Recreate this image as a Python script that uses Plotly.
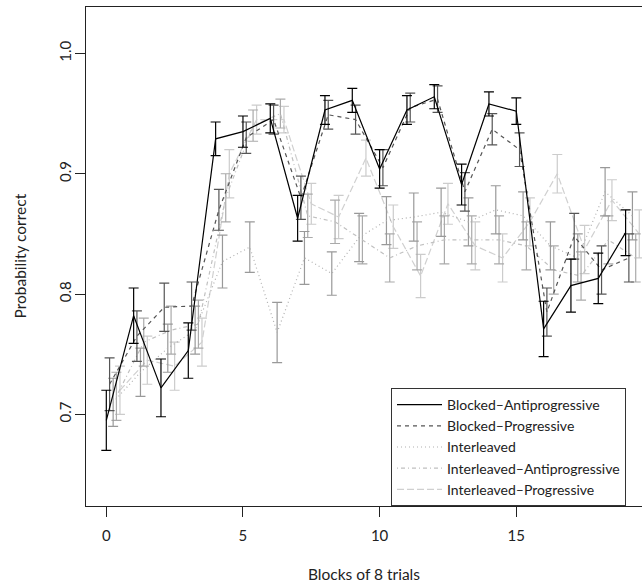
import plotly.graph_objects as go

blocks = list(range(20))

series_names = ["Blocked–Antiprogressive", "Blocked–Progressive", "Interleaved",
                "Interleaved–Antiprogressive", "Interleaved–Progressive"]

ba_mean = [0.695, 0.782, 0.722, 0.753, 0.929, 0.935, 0.946, 0.863, 0.953, 0.961,
           0.904, 0.953, 0.964, 0.891, 0.958, 0.952, 0.771, 0.807, 0.813, 0.851]
ba_err = [0.025, 0.023, 0.024, 0.023, 0.014, 0.013, 0.012, 0.019, 0.012, 0.010,
          0.016, 0.012, 0.010, 0.017, 0.010, 0.011, 0.023, 0.022, 0.021, 0.019]

bp_mean = [0.725, 0.765, 0.789, 0.790, 0.870, 0.930, 0.945, 0.880, 0.949, 0.945,
           0.905, 0.955, 0.962, 0.885, 0.937, 0.920, 0.785, 0.848, 0.820, 0.830]
bp_err = [0.022, 0.021, 0.020, 0.020, 0.017, 0.013, 0.012, 0.018, 0.012, 0.012,
          0.015, 0.012, 0.011, 0.016, 0.013, 0.014, 0.020, 0.019, 0.020, 0.020]

il_mean = [0.710, 0.735, 0.755, 0.770, 0.827, 0.839, 0.768, 0.830, 0.817, 0.847,
           0.861, 0.864, 0.868, 0.860, 0.870, 0.865, 0.840, 0.830, 0.885, 0.865]
il_err = [0.020, 0.020, 0.020, 0.020, 0.022, 0.021, 0.025, 0.022, 0.018, 0.020,
          0.020, 0.020, 0.020, 0.020, 0.020, 0.020, 0.020, 0.020, 0.020, 0.020]

ia_mean = [0.715, 0.760, 0.770, 0.775, 0.880, 0.940, 0.950, 0.865, 0.860, 0.845,
           0.830, 0.840, 0.845, 0.845, 0.845, 0.840, 0.820, 0.815, 0.845, 0.830]
ia_err = [0.020, 0.020, 0.020, 0.020, 0.020, 0.013, 0.012, 0.018, 0.018, 0.020,
          0.020, 0.020, 0.020, 0.020, 0.020, 0.020, 0.020, 0.020, 0.020, 0.020]

ip_mean = [0.720, 0.745, 0.740, 0.760, 0.900, 0.945, 0.945, 0.875, 0.864, 0.913,
           0.856, 0.815, 0.875, 0.840, 0.830, 0.860, 0.900, 0.837, 0.878, 0.850]
ip_err = [0.020, 0.020, 0.020, 0.020, 0.020, 0.012, 0.011, 0.017, 0.018, 0.015,
          0.018, 0.018, 0.017, 0.020, 0.020, 0.020, 0.016, 0.020, 0.017, 0.020]

means = [ba_mean, bp_mean, il_mean, ia_mean, ip_mean]
errs = [ba_err, bp_err, il_err, ia_err, ip_err]
offsets = [0.0, 0.12, 0.25, 0.37, 0.5]
line_colors = ["#000000", "#555555", "#b0b0b0", "#c0c0c0", "#d0d0d0"]
bar_colors = ["#000000", "#555555", "#999999", "#aaaaaa", "#cccccc"]
dashes = ["solid", "4px,4px", "1px,3px", "1px,3px,4px,3px", "7px,3px"]

FONT = "Lato"
fig = go.Figure()
for i in reversed(range(5)):
    fig.add_trace(go.Scatter(
        x=[b + offsets[i] for b in blocks], y=means[i], mode="lines",
        name=series_names[i],
        line=dict(color=line_colors[i], width=1.2, dash=dashes[i]),
        error_y=dict(type="data", array=errs[i], visible=True,
                     color=bar_colors[i], thickness=1.2, width=5),
    ))

fig.update_layout(
    width=642, height=584,
    margin=dict(l=86, r=0, t=7, b=78, autoexpand=False),
    paper_bgcolor="white", plot_bgcolor="white",
    font=dict(family=FONT, size=15, color="#222222"),
    showlegend=True,
    legend=dict(x=(391 - 86) / 556, xanchor="left", y=0, yanchor="bottom",
                bgcolor="white", bordercolor="#333333", borderwidth=1,
                traceorder="reversed", font=dict(family=FONT, size=14),
                itemwidth=45),
    xaxis=dict(range=[-0.743, 19.60], tickvals=[0, 5, 10, 15], ticktext=["0", "5", "10", "15"],
               showline=True, linecolor="#222222", linewidth=1, mirror=True,
               ticks="outside", ticklen=10, tickcolor="#222222", tickwidth=1,
               ticklabelstandoff=6, showgrid=False, zeroline=False),
    yaxis=dict(range=[0.6238, 1.0386], tickvals=[0.7, 0.8, 0.9, 1.0],
               ticktext=["0.7", "0.8", "0.9", "1.0"], tickangle=-90,
               showline=True, linecolor="#222222", linewidth=1, mirror=False,
               ticks="outside", ticklen=10, tickcolor="#222222", tickwidth=1,
               ticklabelstandoff=-2, showgrid=False, zeroline=False),
    annotations=[
        dict(text="Blocks of 8 trials", xref="paper", yref="paper", x=0.5,
             y=(506 - 574) / 499, xanchor="center", yanchor="middle", showarrow=False,
             font=dict(family=FONT, size=15.5)),
        dict(text="Probability correct", xref="paper", yref="paper",
             x=(19 - 86) / 556, y=0.5, xanchor="center", yanchor="middle",
             textangle=-90, showarrow=False, font=dict(family=FONT, size=15.5)),
    ],
)

fig.write_html("out.html", config={"displayModeBar": False},
               post_script="document.body.style.margin='0';document.body.style.overflow='hidden';")
